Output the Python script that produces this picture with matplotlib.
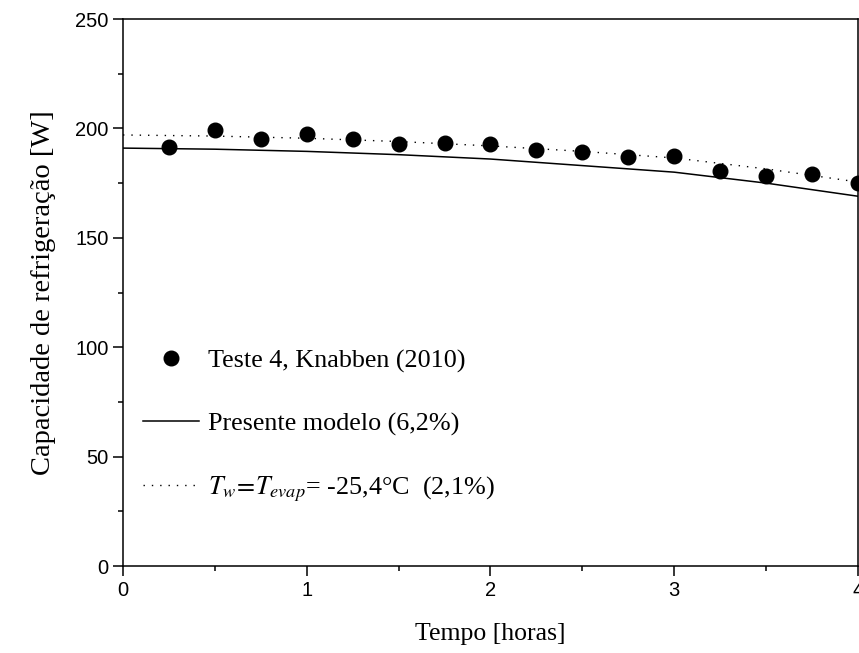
import matplotlib
matplotlib.use('Agg')
import matplotlib.pyplot as plt
from matplotlib.ticker import MultipleLocator

# pontos experimentais (Teste 4, Knabben 2010)
tempo_exp = [0.25, 0.5, 0.75, 1.0, 1.25, 1.5, 1.75, 2.0, 2.25, 2.5, 2.75, 3.0, 3.25, 3.5, 3.75, 4.0]
cap_exp = [191.6, 199.3, 195.2, 197.4, 195.2, 192.9, 193.3, 193.0, 190.0, 189.0, 187.1, 187.4, 180.5, 178.2, 179.0, 175.2]

# curvas dos modelos
tempo_mod = [0.0, 0.5, 1.0, 1.5, 2.0, 2.5, 3.0, 3.5, 4.0]
cap_modelo = [191.0, 190.5, 189.5, 188.0, 186.0, 183.0, 180.0, 175.0, 169.0]
cap_tw = [197.0, 196.5, 195.5, 194.0, 192.0, 189.5, 186.5, 181.5, 175.5]

plt.rcParams['mathtext.fontset'] = 'stix'

fig = plt.figure(figsize=(8.59, 6.53), dpi=100)
ax = fig.add_axes([0.1432, 0.1332, 0.8556, 0.8377])

ax.plot(tempo_exp, cap_exp, 'o', color='black', markersize=10.5,
        label='Teste 4, Knabben (2010)')
ax.plot(tempo_mod, cap_modelo, '-', color='black', lw=1.1,
        label='Presente modelo (6,2%)')
ax.plot(tempo_mod, cap_tw, color='black', lw=1.0, dashes=(1, 5),
        label=r'$T_w\!=\!T_{evap}$= -25,4°C  (2,1%)')

ax.set_xlim(0, 4)
ax.set_ylim(0, 250)
ax.xaxis.set_major_locator(MultipleLocator(1))
ax.xaxis.set_minor_locator(MultipleLocator(0.5))
ax.yaxis.set_major_locator(MultipleLocator(50))
ax.yaxis.set_minor_locator(MultipleLocator(25))
ax.tick_params(which='both', direction='out', top=False, right=False, width=1.1)
ax.tick_params(which='major', length=7, labelsize=14.5)
ax.tick_params(which='minor', length=3.6)
for lbl in ax.get_xticklabels() + ax.get_yticklabels():
    lbl.set_family('Liberation Sans')
for s in ax.spines.values():
    s.set_linewidth(1.1)

ax.set_xlabel('Tempo [horas]', family='Liberation Serif', fontsize=18.5, labelpad=17)
ax.set_ylabel('Capacidade de refrigeração [W]', family='Liberation Serif', fontsize=20.5, labelpad=14)

ax.legend(loc='lower left', bbox_to_anchor=(-0.005, 0.07), frameon=False,
          prop={'family': 'Liberation Serif', 'size': 18.8},
          labelspacing=1.5, handlelength=2.15, handletextpad=0.35)

fig.savefig('out.png', dpi=100)
